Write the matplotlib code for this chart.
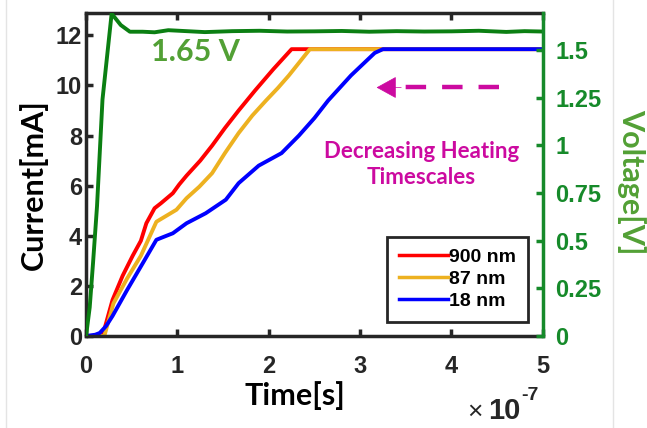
import numpy as np
import matplotlib.pyplot as plt
from matplotlib.ticker import ScalarFormatter
from matplotlib.lines import Line2D

# ---- data (time in units of 1e-7 s) ----
t_900 = [0, 0.18, 0.29, 0.40, 0.51, 0.60, 0.66, 0.75, 0.82, 0.95, 1.02, 1.10,
         1.25, 1.38, 1.52, 1.67, 1.85, 2.05, 2.25, 5.0]
i_900 = [0, 0.0, 1.44, 2.40, 3.20, 3.80, 4.50, 5.10, 5.30, 5.70, 6.05, 6.40,
         7.00, 7.60, 8.30, 9.00, 9.80, 10.65, 11.45, 11.45]

t_87 = [0, 0.20, 0.30, 0.45, 0.60, 0.70, 0.77, 0.88, 0.99, 1.10, 1.24, 1.38,
        1.52, 1.67, 1.82, 1.97, 2.10, 2.22, 2.45, 5.0]
i_87 = [0, 0.0, 1.30, 2.30, 3.20, 4.00, 4.56, 4.80, 5.04, 5.50, 5.96, 6.50,
        7.30, 8.10, 8.80, 9.40, 9.90, 10.40, 11.45, 11.45]

t_18 = [0, 0.10, 0.15, 0.22, 0.29, 0.45, 0.62, 0.77, 0.88, 0.95, 1.10, 1.31,
        1.53, 1.67, 1.89, 2.14, 2.33, 2.50, 2.65, 2.90, 3.16, 3.25, 5.0]
i_18 = [0, 0.05, 0.12, 0.40, 0.80, 1.84, 2.90, 3.84, 4.00, 4.10, 4.50, 4.90,
        5.44, 6.10, 6.80, 7.30, 8.00, 8.70, 9.40, 10.40, 11.30, 11.45, 11.45]

t_v = [0, 0.04, 0.076, 0.12, 0.18, 0.28, 0.38, 0.48, 0.62, 0.75, 0.9, 1.1,
       1.3, 1.6, 1.9, 2.2, 2.5, 2.8, 3.1, 3.4, 3.7, 4.0, 4.3, 4.6, 4.8, 5.0]
v_v = [0, 0.15, 0.38, 0.68, 1.24, 1.69, 1.63, 1.595, 1.595, 1.592, 1.603, 1.598,
       1.593, 1.598, 1.600, 1.596, 1.597, 1.599, 1.595, 1.598, 1.596, 1.597,
       1.600, 1.594, 1.598, 1.596]

labels = ["900 nm", "87 nm", "18 nm"]
colors = ["#ff0000", "#edb120", "#0000ff"]

DARK = "#262626"
GREEN_AX = "#168a2a"
GREEN_LINE = "#0b7f12"
GREEN_TXT = "#52a035"
MAGENTA = "#cc0aa0"

plt.rcParams["font.family"] = ["Liberation Sans", "DejaVu Sans"]
plt.rcParams["font.weight"] = "bold"

fig = plt.figure(figsize=(6.47, 4.28), dpi=100)
ax = fig.add_axes([0.133, 0.215, 0.706, 0.755])
ax2 = ax.twinx()

S = 1e-7
for t, i, c, lab in zip([t_900, t_87, t_18], [i_900, i_87, i_18], colors, labels):
    ax.plot(np.array(t) * S, i, color=c, lw=2.8, label=lab, solid_joinstyle="round")

ax2.plot(np.array(t_v) * S, v_v, color=GREEN_LINE, lw=2.8)

ax.set_xlim(0, 5e-7)
ax.set_ylim(0, 12.9)
ax2.set_ylim(0, 1.694)

ax.set_xticks(np.arange(0, 6) * S)
ax.set_yticks(np.arange(0, 13, 2))
ax2.set_yticks([0, 0.25, 0.5, 0.75, 1, 1.25, 1.5])
ax2.set_yticklabels(["0", "0.25", "0.5", "0.75", "1", "1.25", "1.5"])

fmt = ScalarFormatter(useMathText=True)
fmt.set_powerlimits((0, 0))
ax.xaxis.set_major_formatter(fmt)
ax.xaxis.get_offset_text().set_visible(False)

# exponent written out in pieces: "×", "10", "-7"
ax.text(0.851, -0.236, "\u00d7", transform=ax.transAxes, fontsize=19,
        fontweight="normal", color=DARK, ha="center", va="center")
ax.text(0.952, -0.232, "10", transform=ax.transAxes, fontsize=21,
        color=DARK, ha="right", va="center")
ax.text(0.953, -0.183, "-7", transform=ax.transAxes, fontsize=14,
        color=DARK, ha="left", va="center")

for s in ["left", "bottom", "top"]:
    ax.spines[s].set_linewidth(2.5)
    ax.spines[s].set_color(DARK)
ax.spines["right"].set_visible(False)
for s in ["left", "bottom", "top"]:
    ax2.spines[s].set_visible(False)
ax2.spines["right"].set_linewidth(2.5)
ax2.spines["right"].set_color(GREEN_AX)

ax.tick_params(axis="both", direction="in", length=5, width=2.5, colors=DARK,
               labelsize=17, top=True, right=False)
ax.tick_params(axis="x", pad=14)
ax.tick_params(axis="y", pad=3)
ax2.tick_params(axis="y", direction="in", length=5, width=2.5, colors=GREEN_AX,
                labelsize=17, pad=9)
for lab in ax.get_xticklabels() + ax.get_yticklabels() + ax2.get_yticklabels():
    lab.set_fontweight("bold")

ax.set_xlabel("Time[s]", fontsize=22, fontweight="bold", family="Lato", color="black")
ax.set_ylabel("Current[mA]", fontsize=22, fontweight="bold", family="Lato", color="black")
ax2.set_ylabel("Voltage[V]", fontsize=22, fontweight="bold", family="Lato",
               color=GREEN_TXT, rotation=270)
ax.xaxis.set_label_coords(0.457, -0.139)
ax.yaxis.set_label_coords(-0.083, 0.467)
ax2.yaxis.label.set_va("bottom")
ax2.yaxis.set_label_coords(1.162, 0.477)

ax.text(1.2e-7, 11.35, "1.65 V", fontsize=22, fontweight="bold", family="Lato",
        color=GREEN_TXT, ha="center", va="center")

# decreasing-timescale arrow
ax.plot([4.52 * S, 3.42 * S], [9.92, 9.92], color=MAGENTA, lw=3.2,
        dashes=(4.6, 3.6))
ax.annotate("", xy=(3.18 * S, 9.92), xytext=(3.45 * S, 9.92),
            arrowprops=dict(arrowstyle="-|>,head_length=1.0,head_width=0.55",
                            color=MAGENTA, lw=0.5, mutation_scale=13,
                            shrinkA=0, shrinkB=0))
ax.text(3.67 * S, 6.85, "Decreasing Heating\nTimescales", fontsize=16,
        fontweight="bold", family="Lato", color=MAGENTA, ha="center", va="center",
        linespacing=1.3)

leg = ax.legend(loc="lower right", bbox_to_anchor=(0.967, 0.043), fontsize=14,
                handlelength=2.5, handletextpad=0.05, labelspacing=0.22,
                borderpad=0.62, borderaxespad=0, fancybox=False, framealpha=1)
leg.get_frame().set_edgecolor(DARK)
leg.get_frame().set_linewidth(2)
for txt in leg.get_texts():
    txt.set_fontweight("bold")
for h in leg.legend_handles:
    h.set_linewidth(2.5)

# faint page border
fig.add_artist(Line2D([6 / 647, 6 / 647], [0, 1], color="#e4e4e4", lw=1))
fig.add_artist(Line2D([613 / 647, 613 / 647], [0, 1], color="#e4e4e4", lw=1))

fig.savefig("out.png", dpi=100)
